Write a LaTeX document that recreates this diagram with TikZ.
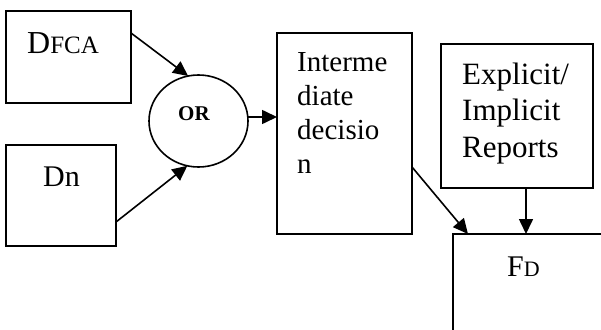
\documentclass[tikz,border=0pt]{standalone}
\usepackage{fontspec}
\setmainfont{Liberation Serif}
\usetikzlibrary{arrows.meta,shapes.geometric}

\tikzset{
  box/.style={draw, line width=1.6pt, inner sep=0pt, outer sep=0pt},
  label/.style={anchor=base west, inner sep=0pt, align=left},
  flow/.style={line width=1.6pt, -{Triangle[length=15pt,width=14pt]}}
}
\newcommand{\fs}[2]{\fontsize{#1}{#2}\selectfont}

\begin{document}
\begin{tikzpicture}[x=1pt,y=1pt,yscale=-1,xscale=1]
\useasboundingbox (0,0) rectangle (601,329);
\clip (0,0) rectangle (601,329);

%Shape: Rectangle [DFCA]
\node [box, minimum width=125, minimum height=92] (dfca) at (68.5,57) {};
%Shape: Rectangle [Dn]
\node [box, minimum width=110, minimum height=101] (dn) at (61,195.5) {};
%Shape: Ellipse [OR]
\node [box, ellipse, minimum width=99, minimum height=92] (or) at (198.5,121) {};
%Shape: Rectangle [Intermediate]
\node [box, minimum width=135, minimum height=201] (int) at (344.5,133.5) {};
%Shape: Rectangle [Reports]
\node [box, minimum width=152, minimum height=144] (rep) at (517,116) {};
%Shape: Rectangle [FD]
\node [box, minimum width=170, minimum height=120] (fd) at (538,294) {};

% Text Node
\node [label] (dfcatext) at (27,53) {\fs{32}{36}D\fs{25}{30}FCA};
% Text Node
\node [label] (dntext) at (43,186) {\fs{30}{34}Dn};
% Text Node
\node [label, font=\fs{21}{25}\bfseries] (ortext) at (178,120) {OR};
% Text Node (baseline of last line)
\node [label, font=\fs{29}{33.7}] (inttext) at (297,173) {Interme\\diate\\decisio\\n};
% Text Node (baseline of last line)
\node [label, font=\fs{31}{36.5}] (reptext) at (462,157) {Explicit/\\Implicit\\Reports};
% Text Node
\node [label] (fdtext) at (507,276) {\fs{30}{34}F\fs{22}{26}D};

% Connectors
\draw [flow] ([yshift=22pt]dfca.north east) -- (or.103);
\draw [flow] ([yshift=-24pt]dn.south east) -- (or.256);
\draw [flow] ([yshift=-4pt]or.east) -- ([yshift=-4pt]or.east -| int.west);
\draw [flow] ([yshift=33.5pt]int.east) -- ([xshift=15pt]fd.north west);
\draw [flow] ([xshift=9pt]rep.south) -- ([xshift=9pt]rep.south |- fd.north);

\end{tikzpicture}
\end{document}
